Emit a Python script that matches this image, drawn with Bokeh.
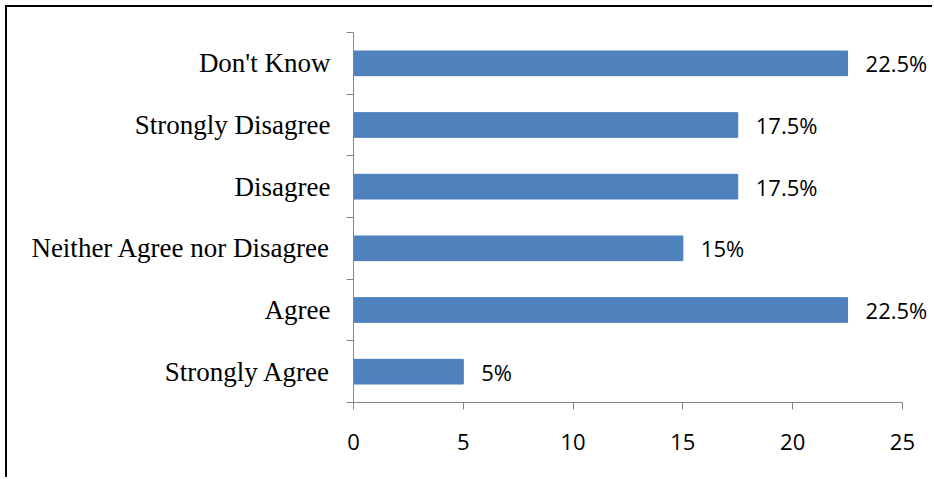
from bokeh.plotting import figure
from bokeh.models import ColumnDataSource, FixedTicker, Range1d, LabelSet
from bokeh.core.properties import value
from bokeh.embed import file_html
from bokeh.resources import INLINE

# Survey responses, bottom to top
categories = ["Strongly Agree", "Agree", "Neither Agree nor Disagree",
              "Disagree", "Strongly Disagree", "Don't Know"]
percentages = [5, 22.5, 15, 17.5, 17.5, 22.5]
x_ticks = [0, 5, 10, 15, 20, 25]

positions = list(range(len(categories)))
labels = [f"{v:g}%" for v in percentages]

source = ColumnDataSource(dict(y=positions, pct=percentages, label=labels))

# the frame runs a little past 25 so the value labels have room;
# the x axis line itself stops at 25 through its bounds
p = figure(width=927, height=472, output_backend="svg", toolbar_location=None,
           x_range=Range1d(0, 26.46), y_range=Range1d(-0.5, len(categories) - 0.5),
           min_border_left=346, min_border_right=0,
           min_border_top=25, min_border_bottom=77,
           styles={"margin-left": "5px", "margin-top": "5px",
                   "border-left": "2px solid #000000",
                   "border-top": "2px solid #000000"})
p.outline_line_color = None
p.background_fill_color = "white"
p.border_fill_color = "white"
p.xgrid.visible = False
p.ygrid.visible = False

p.hbar(y="y", right="pct", left=0, height=0.4, source=source,
       fill_color="#4F81BD", line_color="#4A7EBB", line_width=1)

value_labels = LabelSet(x="pct", y="y", text="label", source=source,
                        x_offset=18, text_align="left", text_baseline="middle",
                        text_font=value("Open Sans"), text_font_size=value("22px"),
                        text_color="#000000")
p.add_layout(value_labels)

axis_color = "#868686"

# x axis
p.xaxis.ticker = FixedTicker(ticks=x_ticks)
p.xaxis.bounds = (0, 25)
p.xaxis.axis_line_color = axis_color
p.xaxis.major_tick_line_color = axis_color
p.xaxis.major_tick_in = 0
p.xaxis.major_tick_out = 7
p.xaxis.minor_tick_line_color = None
p.xaxis.major_label_text_font = "Open Sans"
p.xaxis.major_label_text_font_size = "22px"
p.xaxis.major_label_text_color = "#000000"
p.xaxis.major_label_standoff = 24

# y axis: labels at category centres, tick marks on the boundaries
boundaries = [i - 0.5 for i in range(len(categories) + 1)]
p.yaxis.ticker = FixedTicker(ticks=positions, minor_ticks=boundaries)
p.yaxis.major_label_overrides = {i: c for i, c in enumerate(categories)}
p.yaxis.axis_line_color = axis_color
p.yaxis.major_tick_line_color = None
p.yaxis.major_tick_in = 0
p.yaxis.major_tick_out = 0
p.yaxis.minor_tick_line_color = axis_color
p.yaxis.minor_tick_in = 0
p.yaxis.minor_tick_out = 7
p.yaxis.major_label_text_font = "Liberation Serif"
p.yaxis.major_label_text_font_size = "27px"
p.yaxis.major_label_text_color = "#000000"
p.yaxis.major_label_standoff = 16

open("out.html", "w").write(file_html(p, INLINE))
